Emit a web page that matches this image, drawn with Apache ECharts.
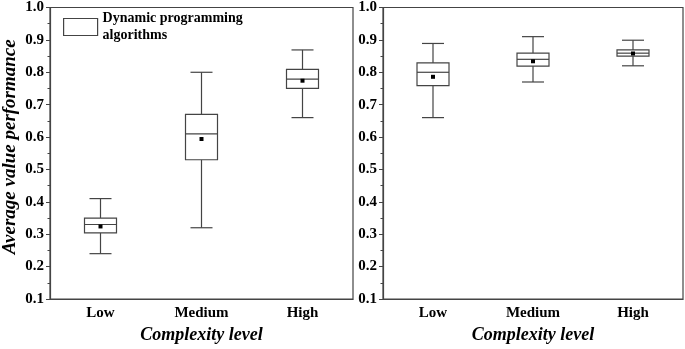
<!DOCTYPE html>
<html>
<head>
<meta charset="utf-8">
<script src="https://cdn.jsdelivr.net/npm/echarts@6/dist/echarts.min.js"></script>
<style>html,body{margin:0;padding:0;background:#fff;}#c{width:685px;height:349px;}</style>
</head>
<body>
<div id="c"></div>
<script>
const categories = ['Low', 'Medium', 'High'];
// Left panel: Dynamic programming algorithms
const leftMin = [0.24, 0.32, 0.66];
const leftQ1 = [0.304, 0.53, 0.75];
const leftMedian = [0.33, 0.61, 0.779];
const leftQ3 = [0.35, 0.67, 0.809];
const leftMax = [0.41, 0.80, 0.869];
const leftMean = [0.324, 0.594, 0.774];
// Right panel
const rightMin = [0.66, 0.77, 0.82];
const rightQ1 = [0.759, 0.819, 0.85];
const rightMedian = [0.80, 0.84, 0.859];
const rightQ3 = [0.829, 0.859, 0.869];
const rightMax = [0.889, 0.91, 0.899];
const rightMean = [0.786, 0.834, 0.858];
const yMin = 0.1, yMax = 1.0, yStep = 0.1;

function rows(mn, q1, md, q3, mx, mean) {
  return categories.map((c, i) => [i, mn[i], q1[i], md[i], q3[i], mx[i], mean[i]]);
}
const LINE = '#444';
function renderBox(params, api) {
  const i = api.value(0);
  const pMin = api.coord([i, api.value(1)]);
  const pQ1 = api.coord([i, api.value(2)]);
  const pMed = api.coord([i, api.value(3)]);
  const pQ3 = api.coord([i, api.value(4)]);
  const pMax = api.coord([i, api.value(5)]);
  const pMean = api.coord([i, api.value(6)]);
  const x = pMed[0];
  const bw = 32, cw = 22, ms = 4;
  const ls = {stroke: LINE, lineWidth: 1.2, fill: null};
  return {
    type: 'group',
    children: [
      {type: 'line', shape: {x1: x, y1: pMax[1], x2: x, y2: pQ3[1]}, style: ls},
      {type: 'line', shape: {x1: x, y1: pQ1[1], x2: x, y2: pMin[1]}, style: ls},
      {type: 'line', shape: {x1: x - cw / 2, y1: pMax[1], x2: x + cw / 2, y2: pMax[1]}, style: ls},
      {type: 'line', shape: {x1: x - cw / 2, y1: pMin[1], x2: x + cw / 2, y2: pMin[1]}, style: ls},
      {type: 'rect', shape: {x: x - bw / 2, y: pQ3[1], width: bw, height: pQ1[1] - pQ3[1]}, style: {stroke: LINE, lineWidth: 1.2, fill: '#fff'}},
      {type: 'line', shape: {x1: x - bw / 2, y1: pMed[1], x2: x + bw / 2, y2: pMed[1]}, style: ls},
      {type: 'rect', shape: {x: x - ms / 2, y: pMean[1] - ms / 2, width: ms, height: ms}, style: {fill: '#000'}}
    ]
  };
}
const FONT = 'Liberation Serif';
function xAxis(gi) {
  return {
    type: 'category', gridIndex: gi, data: categories,
    name: 'Complexity level', nameLocation: 'middle', nameGap: 27,
    nameTextStyle: {fontFamily: FONT, fontWeight: 'bold', fontStyle: 'italic', fontSize: 18, color: '#000'},
    axisLine: {lineStyle: {color: LINE, width: 1.2}},
    axisTick: {alignWithLabel: true, length: 4, lineStyle: {color: LINE}},
    axisLabel: {fontFamily: FONT, fontWeight: 'bold', fontSize: 15, color: '#000', margin: 7},
    splitLine: {show: false}
  };
}
function yAxis(gi, name) {
  return {
    type: 'value', gridIndex: gi, min: yMin, max: yMax, interval: yStep,
    name: name, nameLocation: 'middle', nameGap: 30,
    nameTextStyle: {fontFamily: FONT, fontWeight: 'bold', fontStyle: 'italic', fontSize: 19, color: '#000', padding: [0, 0, 0, 13]},
    axisLine: {show: true, lineStyle: {color: LINE, width: 1.2}},
    axisTick: {show: true, length: 4, lineStyle: {color: LINE}},
    minorTick: {show: true, splitNumber: 2, length: 2.5, lineStyle: {color: LINE}},
    axisLabel: {fontFamily: FONT, fontWeight: 'bold', fontSize: 15, color: '#000', margin: 6, formatter: v => v.toFixed(1)},
    splitLine: {show: false}
  };
}
const chart = echarts.init(document.getElementById('c'), null, {renderer: 'canvas'});
chart.setOption({
  backgroundColor: '#fff',
  animation: false,
  grid: [
    {left: 50, right: 332, top: 5, bottom: 46, show: true, borderColor: LINE, borderWidth: 1.2, backgroundColor: 'transparent'},
    {left: 383, right: 2, top: 5, bottom: 46, show: true, borderColor: LINE, borderWidth: 1.2, backgroundColor: 'transparent'}
  ],
  legend: {
    left: 58, top: 5, itemWidth: 34, itemHeight: 17, itemGap: 4,
    data: [{name: 'Dynamic programming\nalgorithms', icon: 'rect', itemStyle: {color: '#fff', borderColor: LINE, borderWidth: 1.2}}],
    textStyle: {fontFamily: FONT, fontWeight: 'bold', fontSize: 14, color: '#000', lineHeight: 17}
  },
  xAxis: [xAxis(0), xAxis(1)],
  yAxis: [yAxis(0, 'Average value performance'), yAxis(1, '')],
  series: [
    {type: 'custom', name: 'Dynamic programming\nalgorithms', xAxisIndex: 0, yAxisIndex: 0, renderItem: renderBox,
     encode: {x: 0, y: [1, 2, 3, 4, 5, 6]}, data: rows(leftMin, leftQ1, leftMedian, leftQ3, leftMax, leftMean), z: 3},
    {type: 'custom', name: 'right', xAxisIndex: 1, yAxisIndex: 1, renderItem: renderBox,
     encode: {x: 0, y: [1, 2, 3, 4, 5, 6]}, data: rows(rightMin, rightQ1, rightMedian, rightQ3, rightMax, rightMean), z: 3}
  ]
});
</script>
</body>
</html>
